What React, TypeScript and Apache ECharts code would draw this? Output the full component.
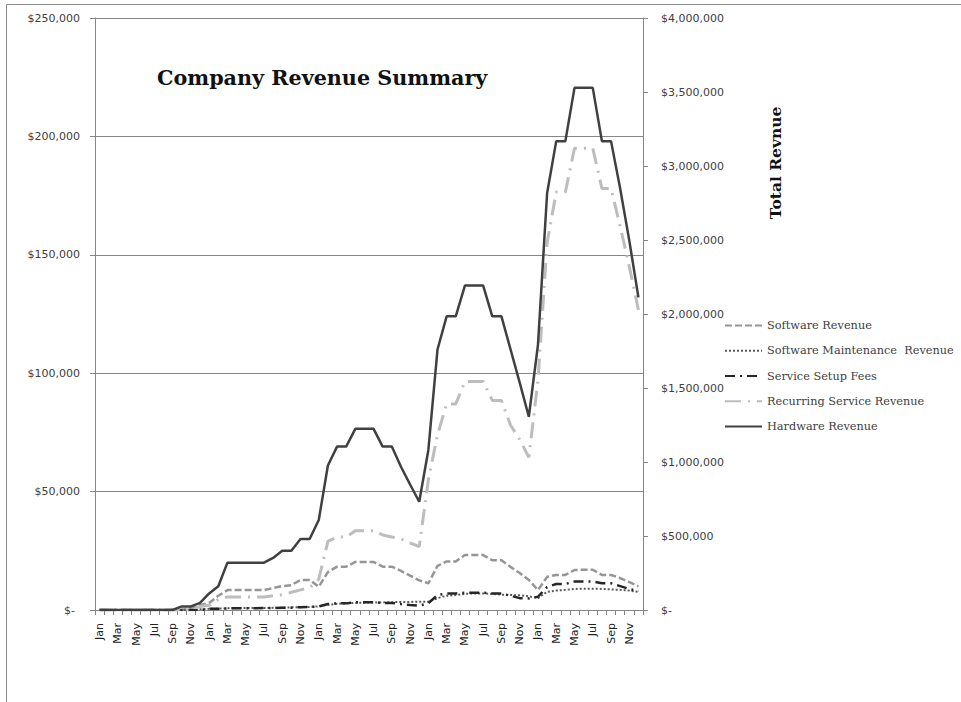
import React, { useEffect, useRef } from "react";
import * as echarts from "echarts";

const monthNames = ["Jan", "Feb", "Mar", "Apr", "May", "Jun", "Jul", "Aug", "Sep", "Oct", "Nov", "Dec"];
const yearsShown = 5;
const categories: string[] = [];
for (let y = 0; y < yearsShown; y++) for (const m of monthNames) categories.push(m);

const softwareRevenue = [
  0, 0, 0, 0, 0, 0, 0, 0, 0, 0, 1000, 2000,
  3000, 6000, 8400, 8400, 8400, 8400, 8400, 9300, 10100, 10500, 12700, 12700,
  9800, 16000, 18300, 18300, 20300, 20300, 20300, 18300, 18300, 16500, 14500, 12500,
  11300, 18600, 20500, 20500, 23200, 23200, 23200, 21000, 21000, 18200, 15600, 12700,
  8400, 14000, 14800, 14800, 16900, 17000, 17000, 14800, 14800, 13500, 11800, 10000,
];
const softwareMaintenance = [
  0, 0, 0, 0, 0, 0, 0, 0, 0, 0, 0, 300,
  500, 600, 700, 800, 800, 800, 800, 900, 1000, 1100, 1200, 1300,
  1500, 2200, 2600, 2800, 3000, 3100, 3200, 3200, 3300, 3400, 3400, 3500,
  3500, 5000, 6000, 6300, 6800, 7000, 7000, 6800, 6500, 6300, 6200, 5800,
  5000, 7700, 8200, 8500, 8900, 9000, 9000, 8900, 8700, 8500, 8200, 7700,
];
const serviceSetupFees = [
  0, 0, 0, 0, 0, 0, 0, 0, 0, 0, 0, 0,
  500, 500, 700, 700, 700, 700, 800, 800, 900, 1000, 1200, 1300,
  1500, 2500, 2800, 2800, 3300, 3300, 3300, 3000, 3000, 2500, 2100, 1800,
  2900, 6300, 7000, 7000, 7300, 7300, 7300, 7000, 7000, 6000, 5000, 4900,
  5600, 9700, 11000, 11000, 12000, 12000, 12000, 11300, 11300, 10100, 8900, 8000,
];
const recurringService = [
  0, 0, 0, 0, 0, 0, 0, 0, 0, 0, 300, 1500,
  2000, 4500, 5500, 5500, 5500, 5500, 5500, 6000, 6500, 7500, 8500, 9500,
  13000, 29000, 30800, 30800, 33500, 33500, 33500, 31700, 30800, 30000, 28300, 26800,
  55000, 74000, 87000, 87000, 96500, 96500, 96500, 88500, 88500, 78000, 72000, 64500,
  97000, 155000, 176500, 176500, 195000, 195000, 195000, 178000, 178000, 162000, 145000, 126700,
];
const hardwareRevenue = [
  0, 0, 0, 0, 0, 0, 0, 0, 0, 1500, 1500, 3000,
  7000, 10000, 20000, 20000, 20000, 20000, 20000, 22000, 25000, 25000, 30000, 30000,
  38000, 61000, 69000, 69000, 76500, 76500, 76500, 69000, 69000, 60500, 53000, 45700,
  67600, 110000, 124000, 124000, 137000, 137000, 137000, 124000, 124000, 110000, 96000, 81600,
  112000, 176000, 198000, 198000, 220500, 220500, 220500, 198000, 198000, 178000, 156000, 132000,
];

const seriesNames = [
  "Software Revenue",
  "Software Maintenance  Revenue",
  "Service Setup Fees",
  "Recurring Service Revenue",
  "Hardware Revenue",
];

const leftTicks = { min: 0, max: 250000, interval: 50000 };
const rightTicks = { min: 0, max: 4000000, interval: 500000 };

const fmt = (v: number) => "$" + v.toLocaleString("en-US");

export default function App() {
  const ref = useRef<HTMLDivElement>(null);
  useEffect(() => {
    if (!ref.current) return;
    const chart = echarts.init(ref.current, undefined, { renderer: "svg" });
    const axisGray = "#868686";
    const labelColor = "#404040";
    const mk = (name: string, data: number[], color: string, width: number, type: any) => ({
      name,
      type: "line",
      data,
      symbol: "none",
      showSymbol: false,
      yAxisIndex: 0,
      lineStyle: { color, width, type, cap: "butt" },
      itemStyle: { color },
    });
    chart.setOption({
      animation: false,
      backgroundColor: "#ffffff",
      title: {
        text: "Company Revenue Summary",
        left: 152,
        top: 62,
        textStyle: { fontFamily: "DejaVu Serif", fontWeight: "bold", fontSize: 20.7, color: "#111" },
      },
      grid: { left: 95, right: 318, top: 18, bottom: 92, containLabel: false },
      legend: {
        orient: "vertical",
        left: 719,
        top: 315,
        itemWidth: 37,
        itemHeight: 14,
        itemGap: 14,
        data: seriesNames,
        itemStyle: { opacity: 0 },
        textStyle: { fontFamily: "DejaVu Serif", fontSize: 11.3, color: "#404040" },
      },
      xAxis: {
        type: "category",
        data: categories,
        boundaryGap: true,
        axisLine: { lineStyle: { color: axisGray, width: 1 } },
        axisTick: { show: true, interval: 0, length: 5, lineStyle: { color: axisGray } },
        axisLabel: {
          interval: 1,
          rotate: 90,
          margin: 13,
          fontFamily: "DejaVu Sans",
          fontSize: 11,
          color: "#222",
        },
        splitLine: { show: false },
      },
      yAxis: [
        {
          type: "value",
          ...leftTicks,
          position: "left",
          axisLine: { show: true, lineStyle: { color: axisGray } },
          axisTick: { show: true, length: 5, lineStyle: { color: axisGray } },
          splitLine: { show: true, lineStyle: { color: axisGray, width: 1 } },
          axisLabel: {
            margin: 15,
            fontFamily: "DejaVu Sans",
            fontSize: 11,
            color: labelColor,
            formatter: (v: number) => (v === 0 ? "{z|$-}" : fmt(v)),
            rich: { z: { fontFamily: "DejaVu Sans", fontSize: 11, color: labelColor, padding: [0, 5, 0, 0] } },
          },
        },
        {
          type: "value",
          ...rightTicks,
          position: "right",
          axisLine: { show: true, lineStyle: { color: axisGray } },
          axisTick: { show: true, length: 5, lineStyle: { color: axisGray } },
          splitLine: { show: false },
          axisLabel: {
            margin: 18,
            fontFamily: "DejaVu Sans",
            fontSize: 11,
            color: labelColor,
            formatter: (v: number) => (v === 0 ? "$-" : fmt(v)),
          },
        },
      ],
      graphic: [
        {
          type: "rect",
          shape: { x: 6.5, y: 4.5, width: 1200, height: 1200 },
          style: { fill: "none", stroke: "#8c8c8c", lineWidth: 1 },
          silent: true,
        },
        {
          type: "text",
          x: 775,
          y: 163,
          rotation: Math.PI / 2,
          style: {
            text: "Total Revnue",
            fontFamily: "DejaVu Serif",
            fontWeight: "bold",
            fontSize: 15.5,
            fill: "#111",
            align: "center",
            verticalAlign: "middle",
          },
        },
      ],
      series: [
        mk(seriesNames[0], softwareRevenue, "#969696", 2.5, [7, 3]),
        mk(seriesNames[1], softwareMaintenance, "#5a5a5a", 2, [2, 2]),
        mk(seriesNames[2], serviceSetupFees, "#262626", 2.5, [10, 5, 2, 5]),
        mk(seriesNames[3], recurringService, "#bdbdbd", 3, [16, 7, 2, 7]),
        mk(seriesNames[4], hardwareRevenue, "#404040", 2.5, "solid"),
      ],
    });
    return () => chart.dispose();
  }, []);
  return (
    <div
      ref={ref}
      style={{ position: "absolute", left: 0, top: 0, width: 961, height: 702, background: "#fff" }}
    />
  );
}
